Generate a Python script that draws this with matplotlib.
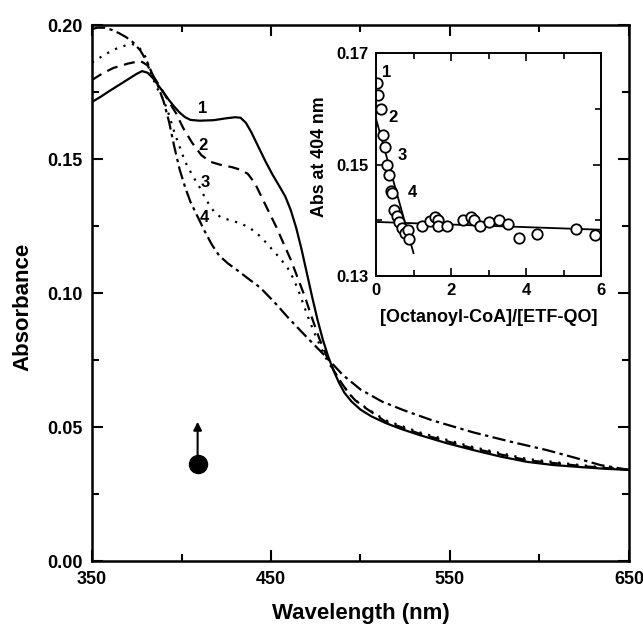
import numpy as np
import matplotlib
matplotlib.use('Agg')
import matplotlib.pyplot as plt

plt.rcParams['font.family'] = ['Liberation Sans', 'DejaVu Sans']
plt.rcParams['font.weight'] = 'bold'

# spectra (wavelength nm, absorbance)
wl1 = [350, 355, 360, 365, 370, 375, 378, 381, 384, 387, 390, 393, 396, 399, 402, 405,
       410, 418, 425, 430, 433, 436, 439, 443, 447, 451, 455, 458, 461, 464, 467, 470,
       473, 476, 479, 482, 485, 488, 491, 495, 500, 506, 514, 523, 533, 548, 563, 578,
       593, 608, 624, 637, 650]
a1 = [0.1713, 0.1733, 0.1755, 0.1776, 0.1797, 0.1818, 0.1828, 0.1822, 0.1802, 0.1775,
      0.1748, 0.1720, 0.1695, 0.1673, 0.1656, 0.1646, 0.1643, 0.1645, 0.1652, 0.1656,
      0.1654, 0.1635, 0.1600, 0.1545, 0.1490, 0.1440, 0.1395, 0.1360, 0.1310, 0.1245,
      0.1165, 0.1075, 0.0985, 0.0900, 0.0825, 0.0762, 0.0710, 0.0665, 0.0628, 0.0595,
      0.0565, 0.0540, 0.0515, 0.0492, 0.0470, 0.0440, 0.0414, 0.0390, 0.0370, 0.0358,
      0.0350, 0.0344, 0.0340]

wl2 = [350, 356, 362, 370, 377, 381, 384, 388, 392, 397, 401, 406, 411, 416, 422, 428,
       433, 437, 441, 445, 449, 453, 457, 461, 465, 469, 473, 477, 481, 485, 489, 493,
       497, 503, 514, 533, 563, 593, 624, 650]
a2 = [0.1795, 0.1820, 0.1840, 0.1856, 0.1866, 0.1850, 0.1812, 0.1770, 0.1725, 0.1670,
      0.1615, 0.1560, 0.1515, 0.1490, 0.1478, 0.1470, 0.1460, 0.1445, 0.1410, 0.1355,
      0.1300, 0.1246, 0.1185, 0.1125, 0.1055, 0.0985, 0.0905, 0.0830, 0.0765, 0.0712,
      0.0668, 0.0630, 0.0600, 0.0570, 0.0520, 0.0475, 0.0420, 0.0376, 0.0354, 0.0340]

wl3 = [350, 356, 362, 368, 372, 376, 380, 383, 386, 390, 393, 396, 399, 402, 406, 410,
       414, 418, 422, 428, 433, 438, 442, 447, 451, 455, 459, 462, 465, 468, 471, 474,
       477, 480, 484, 488, 492, 496, 503, 514, 533, 563, 593, 624, 650]
a3 = [0.1860, 0.1885, 0.1908, 0.1922, 0.1930, 0.1920, 0.1880, 0.1818, 0.1770, 0.1720,
      0.1665, 0.1600, 0.1545, 0.1490, 0.1440, 0.1396, 0.1345, 0.1305, 0.1282, 0.1270,
      0.1260, 0.1243, 0.1224, 0.1190, 0.1160, 0.1130, 0.1097, 0.1060, 0.1015, 0.0960,
      0.0905, 0.0855, 0.0810, 0.0765, 0.0720, 0.0678, 0.0640, 0.0605, 0.0572, 0.0525,
      0.0480, 0.0425, 0.0381, 0.0357, 0.0340]

wl4 = [350, 353, 357, 361, 365, 369, 373, 377, 381, 384, 387, 390, 393, 396, 399, 402,
       405, 409, 413, 417, 421, 426, 431, 437, 444, 452, 460, 470, 481, 490, 500, 512,
       524, 540, 563, 584, 604, 620, 634, 650]
a4 = [0.1985, 0.1990, 0.1990, 0.1982, 0.1970, 0.1955, 0.1935, 0.1905, 0.1860, 0.1812,
      0.1770, 0.1715, 0.1640, 0.1545, 0.1460, 0.1395, 0.1340, 0.1285, 0.1230, 0.1180,
      0.1140, 0.1110, 0.1086, 0.1055, 0.1020, 0.0965, 0.0905, 0.0835, 0.0760, 0.0695,
      0.0640, 0.0595, 0.0563, 0.0525, 0.0480, 0.0445, 0.0414, 0.0385, 0.0358, 0.0340]

curve_labels = ['1', '2', '3', '4']
label_wl = [412, 412, 413, 413]
label_a = [0.169, 0.155, 0.1414, 0.128]

# inset titration data
ratio = [0.03, 0.05, 0.12, 0.19, 0.25, 0.30, 0.34, 0.39, 0.43, 0.49, 0.55, 0.61, 0.70,
         0.76, 0.85, 0.89, 1.22, 1.43, 1.56, 1.64, 1.66, 1.88, 2.31, 2.53, 2.62, 2.76,
         3.00, 3.27, 3.53, 3.81, 4.30, 5.33, 5.84]
abs404 = [0.1646, 0.1624, 0.1600, 0.1553, 0.1532, 0.1499, 0.1482, 0.1453, 0.1449,
          0.1419, 0.1407, 0.1397, 0.1386, 0.1378, 0.1382, 0.1366, 0.1390, 0.1399,
          0.1405, 0.1400, 0.1390, 0.1390, 0.1400, 0.1405, 0.1400, 0.1390, 0.1396,
          0.1400, 0.1393, 0.1369, 0.1375, 0.1384, 0.1373]
fit1_x = [0.0, 1.0]
fit1_y = [0.1582, 0.1341]
fit2_x = [0.0, 6.0]
fit2_y = [0.1397, 0.1383]
inset_labels = ['1', '2', '3', '4']
inset_lx = [0.28, 0.45, 0.70, 0.98]
inset_ly = [0.1665, 0.1584, 0.1516, 0.1449]

fig = plt.figure(figsize=(6.43, 6.29), dpi=100)
ax = fig.add_axes([0.1431, 0.1081, 0.8351, 0.8521])

lw = 1.6
ax.plot(wl1, a1, color='black', lw=lw, ls='-')
ax.plot(wl2, a2, color='black', lw=lw, ls=(0, (5, 3)))
ax.plot(wl3, a3, color='black', lw=lw, ls=(0, (1, 3)))
ax.plot(wl4, a4, color='black', lw=lw, ls=(0, (6, 2, 1.5, 2)))
for t, x, y in zip(curve_labels, label_wl, label_a):
    ax.text(x, y, t, fontsize=12, fontweight='bold', ha='center', va='center')

# arrow with filled circle
ax.annotate('', xy=(409, 0.0530), xytext=(409, 0.0385),
            arrowprops=dict(arrowstyle='-|>', color='black', lw=1.5, mutation_scale=12))
ax.plot([409], [0.0362], 'o', color='black', ms=13)

ax.set_xlim(350, 650)
ax.set_ylim(0, 0.20)
ax.set_xticks([350, 450, 550, 650])
ax.set_xticks([400, 500, 600], minor=True)
ax.set_yticks([0.00, 0.05, 0.10, 0.15, 0.20])
ax.set_yticks([0.025, 0.075, 0.125, 0.175], minor=True)
ax.set_yticklabels(['0.00', '0.05', '0.10', '0.15', '0.20'])
ax.tick_params(which='both', direction='in', top=True, right=True, width=1.5,
               labelsize=13)
ax.tick_params(which='major', length=8, pad=7)
ax.tick_params(which='minor', length=5)
for s in ax.spines.values():
    s.set_linewidth(1.8)
ax.set_xlabel('Wavelength (nm)', fontsize=16, fontweight='bold', labelpad=11)
ax.set_ylabel('Absorbance', fontsize=16, fontweight='bold')
ax.yaxis.set_label_coords(-0.11, 0.474)

# inset
ins = fig.add_axes([0.5848, 0.5612, 0.3499, 0.3545])
ins.plot(fit1_x, fit1_y, color='black', lw=1.3)
ins.plot(fit2_x, fit2_y, color='black', lw=1.3)
ins.plot(ratio, abs404, 'o', mfc='white', mec='black', mew=1.3, ms=7.5)
for t, x, y in zip(inset_labels, inset_lx, inset_ly):
    ins.text(x, y, t, fontsize=12, fontweight='bold', ha='center', va='center')
ins.set_xlim(0, 6)
ins.set_ylim(0.13, 0.17)
ins.set_xticks([0, 2, 4, 6])
ins.set_xticks([1, 3, 5], minor=True)
ins.set_yticks([0.13, 0.15, 0.17])
ins.set_yticks([0.14, 0.16], minor=True)
ins.set_yticklabels(['0.13', '0.15', '0.17'])
ins.tick_params(which='both', direction='in', top=True, right=True, width=1.2,
                labelsize=12)
ins.tick_params(which='major', length=6, pad=5)
ins.tick_params(which='minor', length=4)
for s in ins.spines.values():
    s.set_linewidth(1.4)
ins.set_xlabel('[Octanoyl-CoA]/[ETF-QO]', fontsize=13, fontweight='bold', labelpad=8)
ins.set_ylabel('Abs at 404 nm', fontsize=12.8, fontweight='bold')
ins.yaxis.set_label_coords(-0.213, 0.534)

fig.savefig('out.png', dpi=100)
